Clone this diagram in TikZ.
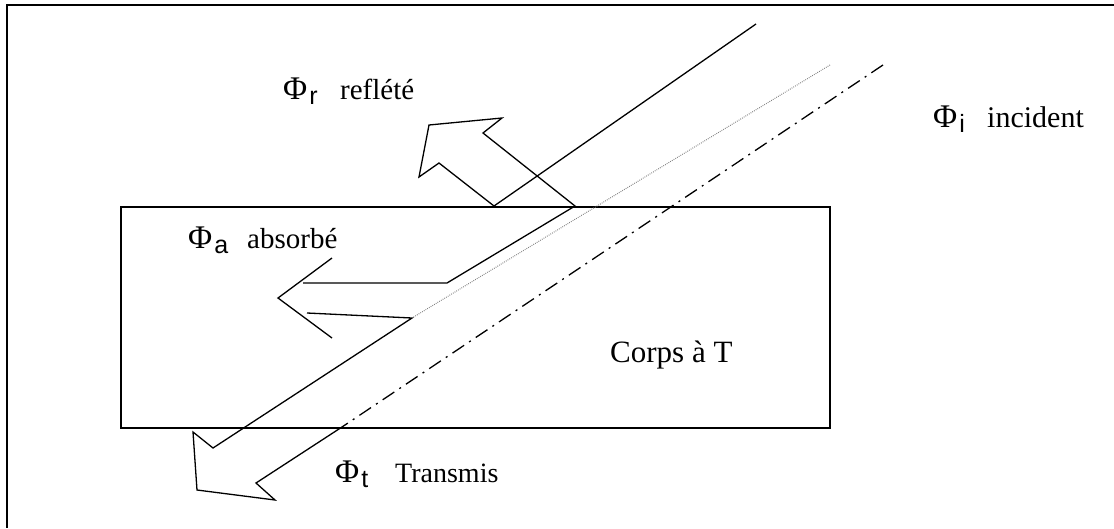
\documentclass[tikz,border=0pt]{standalone}
\usepackage{fontspec}
\setmainfont{Liberation Serif}
\newfontfamily\subfont{Liberation Sans}
\newcommand{\textPhi}{Φ}
\newcommand{\phipart}[1]{{\fontsize{33}{33}\selectfont\textPhi}\hspace{2pt}\raisebox{-5pt}{\subfont\fontsize{25}{25}\selectfont #1}}
\begin{document}
\begin{tikzpicture}[x=1pt,y=-1pt,
  beam/.style={line width=1.3pt, line join=miter},
  lbl/.style={anchor=base west, inner sep=0pt},
  word/.style={anchor=base west, inner sep=0pt, font=\fontsize{29}{29}\selectfont}]
\useasboundingbox (0,0) rectangle (1114,528);
% frame
\draw[line width=2.2pt] (1114,5) -- (7,5) -- (7,528);
% body
\node[draw, line width=1.8pt, minimum width=709pt, minimum height=221pt, inner sep=0pt, anchor=north west] (body) at (120,206) {};
\node[word, font=\fontsize{31}{31}\selectfont] (corps) at (610,362) {Corps à T};
% coordinates
\coordinate (inTop) at (756,24);
\coordinate (r1) at (494,206);
\coordinate (r2) at (439,163);
\coordinate (r3) at (419,177);
\coordinate (r4) at (429,125);
\coordinate (r5) at (502,118);
\coordinate (r6) at (483,133);
\coordinate (r7) at (575,206);
\coordinate (a1) at (447,283);
\coordinate (a2) at (303,283);
\coordinate (a3) at (332,258);
\coordinate (a4) at (278,298);
\coordinate (a5) at (332,338);
\coordinate (a6) at (307,313);
\coordinate (a7) at (412,318);
\coordinate (dotTop) at (830,65);
\coordinate (ddTop) at (883,65);
\coordinate (t1) at (213,448);
\coordinate (t2) at (193,432);
\coordinate (t3) at (197,490);
\coordinate (t4) at (275,500);
\coordinate (t5) at (256,483);
\coordinate (t6) at (342,427);
% incident solid + reflected arrow
\draw[beam] (inTop) -- (r1) -- (r2) -- (r3) -- (r4) -- (r5) -- (r6) -- (r7) -- (a1) -- (a2);
% absorbed arrow head
\draw[beam] (a3) -- (a4) -- (a5);
\draw[beam] (a6) -- (a7) -- (t1) -- (t2) -- (t3) -- (t4) -- (t5) -- (t6);
% dotted beam
\draw[line width=1pt, gray, dash pattern=on 0.8pt off 1.2pt] (dotTop) -- (a7);
% dash-dot beam
\draw[line width=1.3pt, dash pattern=on 14pt off 6pt on 2pt off 6pt] (ddTop) -- (t6);
% labels
\node[lbl] (lr) at (283,99) {\phipart{r}};
\node[word] (lrw) at (340,99) {refl\'et\'e};
\node[lbl] (li) at (933,127) {\phipart{i}};
\node[word, font=\fontsize{30}{30}\selectfont] (liw) at (987,127) {incident};
\node[lbl] (la) at (188,248) {\phipart{a}};
\node[word] (law) at (247,248) {absorb\'e};
\node[lbl] (lt) at (335,482) {\phipart{t}};
\node[word, font=\fontsize{28}{28}\selectfont] (ltw) at (395,482) {Transmis};
\end{tikzpicture}
\end{document}
